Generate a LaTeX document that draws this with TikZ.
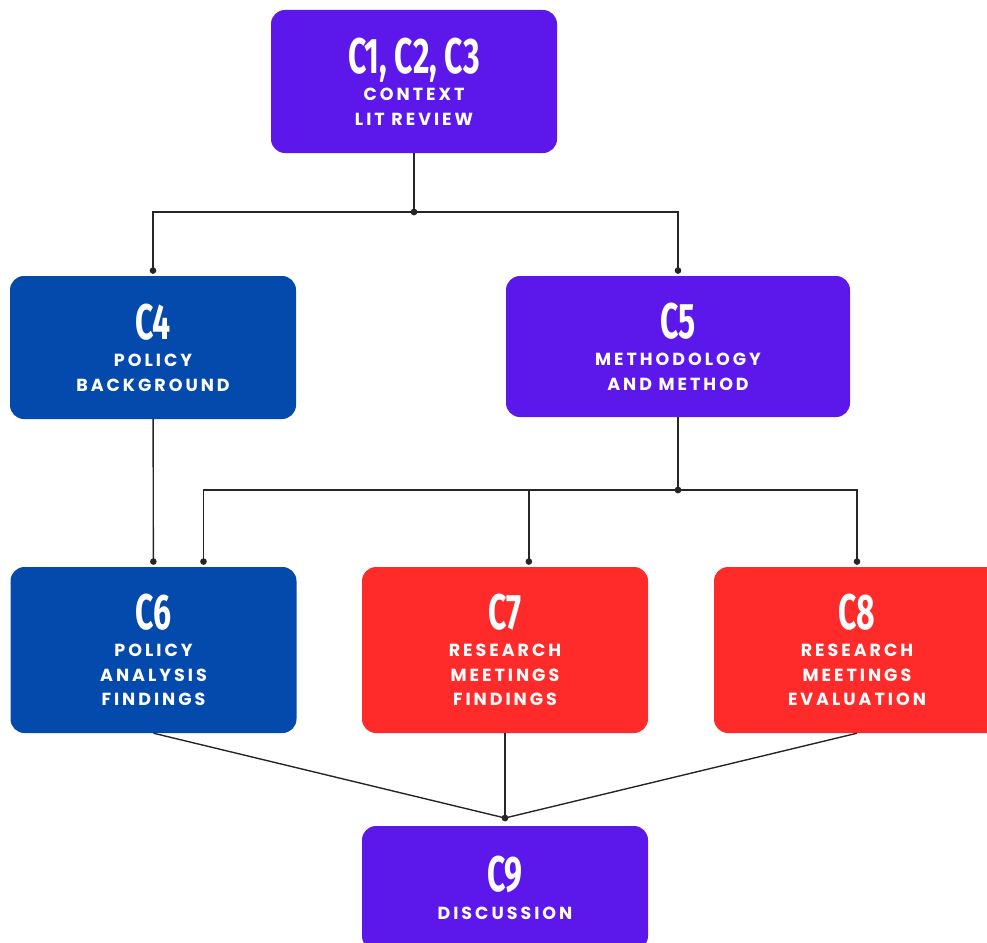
\documentclass[tikz,border=0pt]{standalone}
\usepackage{fontspec}
\usetikzlibrary{arrows.meta}
\newfontfamily\ttlfont[FakeStretch=0.64]{Fira Sans}
\newfontfamily\subfont[LetterSpace=17]{Poppins}
\definecolor{chpurple}{RGB}{92,24,235}
\definecolor{chblue}{RGB}{4,74,173}
\definecolor{chred}{RGB}{255,43,43}
\newcommand\ttl[1]{{\ttlfont\bfseries\fontsize{50}{52}\selectfont #1}}
\begin{document}
\begin{tikzpicture}[x=1pt,y=-1pt,
    box/.style={rounded corners=14pt,inner sep=0pt,text=white,align=center,
        minimum width=286pt,minimum height=143pt,
        font=\subfont\bfseries\fontsize{17.5}{24.5}\selectfont},
    link/.style={line width=1.4pt,draw=black!85},
    tip/.style={link,-{Circle[length=6.5pt]},shorten >=2pt}]
    \useasboundingbox (0,0) rectangle (987,942);
    \clip (0,0) rectangle (987,942);
    % chapters
    \node[box,fill=chpurple] (lit) at (414,81.5) {\ttl{C1, C2, C3}\\[3pt]CONTEXT\\LIT REVIEW};
    \node[box,fill=chblue] (c4) at (153,347.5) {\ttl{C4}\\[3pt]POLICY\\BACKGROUND};
    \node[box,fill=chpurple,minimum width=344pt,minimum height=141pt] (c5) at (678,346.5) {\ttl{C5}\\[3pt]METHODOLOGY\\AND METHOD};
    \node[box,fill=chblue,minimum height=166pt] (c6) at (153.5,650) {\ttl{C6}\\[3pt]POLICY\\ANALYSIS\\FINDINGS};
    \node[box,fill=chred,minimum height=166pt] (c7) at (505,650) {\ttl{C7}\\[3pt]RESEARCH\\MEETINGS\\FINDINGS};
    \node[box,fill=chred,minimum height=166pt] (c8) at (857,650) {\ttl{C8}\\[3pt]RESEARCH\\MEETINGS\\EVALUATION};
    \node[box,fill=chpurple,minimum height=124pt] (c9) at (505,888) {\ttl{C9}\\[3pt]DISCUSSION};
    % junctions
    \coordinate (j1) at (414,212);
    \coordinate (j2) at (678,490);
    \coordinate (j3) at (505,818);
    \draw[link] (lit) -- (j1);
    \draw[tip] (j1) -| (c4);
    \draw[tip] (j1) -| (c5);
    \draw[tip] (c4) -- (c6);
    \draw[link] (c5) -- (j2);
    \draw[tip] (j2) -| (c6.59);
    \draw[tip] (j2) -| (c7.74);
    \draw[tip] (j2) -| (c8);
    \foreach \c in {c6,c7,c8}
    {
        \draw[link] (\c.south) -- (j3);
    }
    \foreach \j in {j1,j2,j3}
    {
        \fill[black!85] (\j) circle (3.4pt);
    }
\end{tikzpicture}
\end{document}
